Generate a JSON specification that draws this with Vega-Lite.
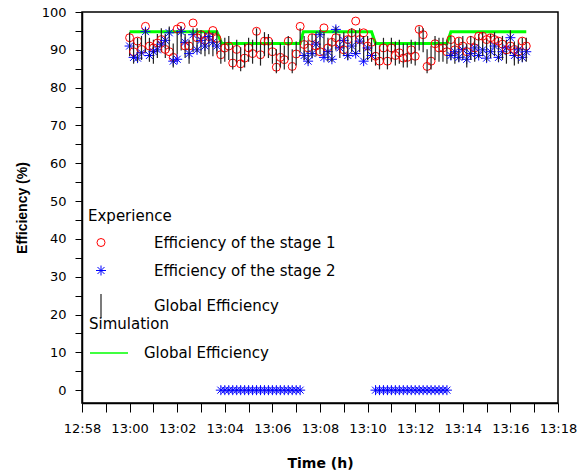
{
  "$schema": "https://vega.github.io/schema/vega-lite/v6.json",
  "width": 476,
  "height": 391,
  "autosize": {"type": "none"},
  "padding": {"left": 82, "top": 12, "right": 24, "bottom": 72},
  "background": "white",
  "config": {
    "font": "Liberation Sans",
    "view": {"stroke": "black", "strokeWidth": 1.5},
    "axis": {"grid": false, "domainColor": "black", "tickColor": "black", "labelColor": "black", "titleColor": "black", "domainWidth": 1.5, "tickWidth": 1, "labelFont": "DejaVu Sans"},
    "legend": {"labelFont": "DejaVu Sans", "titleFont": "DejaVu Sans", "labelLimit": 400}
  },
  "encoding": {
    "x": {
      "field": "t",
      "type": "temporal",
      "scale": {"domain": [{"year": 1900, "month": 1, "date": 1, "hours": 12, "minutes": 58}, {"year": 1900, "month": 1, "date": 1, "hours": 13, "minutes": 18}], "nice": false},
      "axis": {
        "title": "Time (h)",
        "titleFont": "DejaVu Sans",
        "titleFontSize": 14,
        "titleFontWeight": "bold",
        "titlePadding": 21,
        "format": "%H:%M",
        "values": [
          {"year": 1900, "month": 1, "date": 1, "hours": 12, "minutes": 58},
          {"year": 1900, "month": 1, "date": 1, "hours": 12, "minutes": 59},
          {"year": 1900, "month": 1, "date": 1, "hours": 13, "minutes": 0},
          {"year": 1900, "month": 1, "date": 1, "hours": 13, "minutes": 1},
          {"year": 1900, "month": 1, "date": 1, "hours": 13, "minutes": 2},
          {"year": 1900, "month": 1, "date": 1, "hours": 13, "minutes": 3},
          {"year": 1900, "month": 1, "date": 1, "hours": 13, "minutes": 4},
          {"year": 1900, "month": 1, "date": 1, "hours": 13, "minutes": 5},
          {"year": 1900, "month": 1, "date": 1, "hours": 13, "minutes": 6},
          {"year": 1900, "month": 1, "date": 1, "hours": 13, "minutes": 7},
          {"year": 1900, "month": 1, "date": 1, "hours": 13, "minutes": 8},
          {"year": 1900, "month": 1, "date": 1, "hours": 13, "minutes": 9},
          {"year": 1900, "month": 1, "date": 1, "hours": 13, "minutes": 10},
          {"year": 1900, "month": 1, "date": 1, "hours": 13, "minutes": 11},
          {"year": 1900, "month": 1, "date": 1, "hours": 13, "minutes": 12},
          {"year": 1900, "month": 1, "date": 1, "hours": 13, "minutes": 13},
          {"year": 1900, "month": 1, "date": 1, "hours": 13, "minutes": 14},
          {"year": 1900, "month": 1, "date": 1, "hours": 13, "minutes": 15},
          {"year": 1900, "month": 1, "date": 1, "hours": 13, "minutes": 16},
          {"year": 1900, "month": 1, "date": 1, "hours": 13, "minutes": 17},
          {"year": 1900, "month": 1, "date": 1, "hours": 13, "minutes": 18}
        ],
        "labelExpr": "minutes(datum.value) % 2 == 0 ? datum.label : ''",
        "labelOverlap": false,
        "labelFlush": false,
        "labelFontSize": 13,
        "labelPadding": 10,
        "tickSize": 9,
        "encoding": {"ticks": {"update": {"y2": {"signal": "minutes(datum.value) % 2 == 0 ? 9 : 5"}}}}
      }
    },
    "y": {
      "field": "value",
      "type": "quantitative",
      "scale": {"domain": [-3.4, 100], "nice": false, "zero": false},
      "axis": {
        "title": "Efficiency (%)",
        "titleFontSize": 14,
        "titleFontWeight": "bold",
        "titlePadding": 12,
        "values": [0, 5, 10, 15, 20, 25, 30, 35, 40, 45, 50, 55, 60, 65, 70, 75, 80, 85, 90, 95, 100],
        "labelExpr": "datum.value % 10 == 0 ? datum.label : ''",
        "labelOverlap": false,
        "labelFlush": false,
        "labelFontSize": 13,
        "labelPadding": 9,
        "tickSize": 7,
        "encoding": {"ticks": {"update": {"x2": {"signal": "datum.value % 10 == 0 ? -7 : -4"}}}}
      }
    }
  },
  "layer": [
    {
      "data": {"values": [
        {"t": "13:00:00", "value": 94.8}, {"t": "13:03:40", "value": 94.8}, {"t": "13:03:52", "value": 91.7},
        {"t": "13:07:10", "value": 91.7}, {"t": "13:07:18", "value": 94.8}, {"t": "13:10:10", "value": 94.8},
        {"t": "13:10:20", "value": 91.7}, {"t": "13:13:20", "value": 91.7}, {"t": "13:13:30", "value": 94.8},
        {"t": "13:16:40", "value": 94.8}
      ], "format": {"parse": {"t": "date:'%H:%M:%S'"}}},
      "mark": {"type": "line", "strokeWidth": 3},
      "encoding": {
        "stroke": {
          "datum": "Global Efficiency",
          "scale": {"range": ["#00ff00"]},
          "legend": {
            "title": "Simulation",
            "orient": "none",
            "legendX": 7,
            "legendY": 305,
            "padding": 0,
            "symbolType": "stroke",
            "symbolSize": 1444,
            "symbolStrokeWidth": 1.5,
            "labelOffset": 15,
            "titlePadding": 1,
            "titleFontSize": 15,
            "titleFontWeight": "normal",
            "labelFontSize": 15,
            "labelLimit": 400
          }
        }
      }
    },
    {
      "data": {"values": [
      {"t": "13:00:00", "s1": 93.2, "s2": 91.0, "g": 91.5},
      {"t": "13:00:10", "s1": 89.5, "s2": 88.0, "g": 89.5},
      {"t": "13:00:20", "s1": 92.3, "s2": 87.8, "g": 90.0},
      {"t": "13:00:30", "s1": 90.1, "s2": 89.2, "g": 90.5},
      {"t": "13:00:40", "s1": 96.2, "s2": 94.8, "g": 92.5},
      {"t": "13:00:50", "s1": 91.0, "s2": 88.5, "g": 90.0},
      {"t": "13:01:00", "s1": 90.5, "s2": 89.5, "g": 89.5},
      {"t": "13:01:10", "s1": 91.8, "s2": 90.0, "g": 91.0},
      {"t": "13:01:20", "s1": 92.7, "s2": 91.5, "g": 92.5},
      {"t": "13:01:30", "s1": 90.1, "s2": 92.5, "g": 91.0},
      {"t": "13:01:40", "s1": 89.5, "s2": 94.5, "g": 93.0},
      {"t": "13:01:50", "s1": 88.0, "s2": 87.0, "g": 88.5},
      {"t": "13:02:00", "s1": 95.5, "s2": 87.5, "g": 92.0},
      {"t": "13:02:10", "s1": 96.2, "s2": 94.8, "g": 93.0},
      {"t": "13:02:20", "s1": 91.0, "s2": 92.0, "g": 91.0},
      {"t": "13:02:30", "s1": 91.0, "s2": 89.0, "g": 89.5},
      {"t": "13:02:40", "s1": 97.1, "s2": 94.0, "g": 92.5},
      {"t": "13:02:50", "s1": 93.2, "s2": 90.0, "g": 92.5},
      {"t": "13:03:00", "s1": 94.0, "s2": 92.5, "g": 92.0},
      {"t": "13:03:10", "s1": 92.5, "s2": 91.0, "g": 91.5},
      {"t": "13:03:20", "s1": 93.5, "s2": 93.5, "g": 92.0},
      {"t": "13:03:30", "s1": 95.1, "s2": 92.0, "g": 91.5},
      {"t": "13:03:40", "s1": 93.0, "s2": 91.0, "g": 92.0},
      {"t": "13:03:50", "s1": 88.7, "s2": 0, "g": 89.5},
      {"t": "13:04:00", "s1": 90.5, "s2": 0, "g": 90.0},
      {"t": "13:04:10", "s1": 91.0, "s2": 0, "g": 90.5},
      {"t": "13:04:20", "s1": 86.5, "s2": 0, "g": 88.0},
      {"t": "13:04:30", "s1": 90.1, "s2": 0, "g": 89.5},
      {"t": "13:04:40", "s1": 86.3, "s2": 0, "g": 87.5},
      {"t": "13:04:50", "s1": 87.8, "s2": 0, "g": 88.5},
      {"t": "13:05:00", "s1": 90.5, "s2": 0, "g": 90.0},
      {"t": "13:05:10", "s1": 89.0, "s2": 0, "g": 89.5},
      {"t": "13:05:20", "s1": 94.9, "s2": 0, "g": 92.5},
      {"t": "13:05:30", "s1": 88.7, "s2": 0, "g": 89.0},
      {"t": "13:05:40", "s1": 92.3, "s2": 0, "g": 91.5},
      {"t": "13:05:50", "s1": 92.3, "s2": 0, "g": 91.0},
      {"t": "13:06:00", "s1": 89.5, "s2": 0, "g": 89.5},
      {"t": "13:06:10", "s1": 85.4, "s2": 0, "g": 87.0},
      {"t": "13:06:20", "s1": 88.0, "s2": 0, "g": 88.5},
      {"t": "13:06:30", "s1": 87.4, "s2": 0, "g": 88.0},
      {"t": "13:06:40", "s1": 92.3, "s2": 0, "g": 90.5},
      {"t": "13:06:50", "s1": 85.6, "s2": 0, "g": 87.0},
      {"t": "13:07:00", "s1": 88.9, "s2": 0, "g": 89.0},
      {"t": "13:07:10", "s1": 96.2, "s2": 0, "g": 92.5},
      {"t": "13:07:20", "s1": 91.4, "s2": 88.5, "g": 90.5},
      {"t": "13:07:30", "s1": 90.5, "s2": 87.0, "g": 89.5},
      {"t": "13:07:40", "s1": 93.2, "s2": 89.0, "g": 91.0},
      {"t": "13:07:50", "s1": 91.0, "s2": 91.5, "g": 91.5},
      {"t": "13:08:00", "s1": 89.5, "s2": 94.0, "g": 92.0},
      {"t": "13:08:10", "s1": 95.8, "s2": 88.0, "g": 91.5},
      {"t": "13:08:20", "s1": 90.5, "s2": 89.5, "g": 90.0},
      {"t": "13:08:30", "s1": 92.0, "s2": 87.5, "g": 90.0},
      {"t": "13:08:40", "s1": 93.2, "s2": 95.4, "g": 93.0},
      {"t": "13:08:50", "s1": 91.5, "s2": 90.5, "g": 91.0},
      {"t": "13:09:00", "s1": 90.0, "s2": 92.5, "g": 91.5},
      {"t": "13:09:10", "s1": 92.7, "s2": 88.5, "g": 90.5},
      {"t": "13:09:20", "s1": 94.5, "s2": 91.0, "g": 92.5},
      {"t": "13:09:30", "s1": 97.6, "s2": 89.0, "g": 92.0},
      {"t": "13:09:40", "s1": 92.7, "s2": 92.3, "g": 92.5},
      {"t": "13:09:50", "s1": 94.5, "s2": 87.0, "g": 90.5},
      {"t": "13:10:00", "s1": 91.0, "s2": 90.5, "g": 90.5},
      {"t": "13:10:10", "s1": 92.0, "s2": 88.5, "g": 90.0},
      {"t": "13:10:20", "s1": 88.3, "s2": 0, "g": 89.0},
      {"t": "13:10:30", "s1": 87.0, "s2": 0, "g": 88.0},
      {"t": "13:10:40", "s1": 90.5, "s2": 0, "g": 90.0},
      {"t": "13:10:50", "s1": 87.0, "s2": 0, "g": 88.0},
      {"t": "13:11:00", "s1": 90.5, "s2": 0, "g": 90.0},
      {"t": "13:11:10", "s1": 88.5, "s2": 0, "g": 89.0},
      {"t": "13:11:20", "s1": 89.2, "s2": 0, "g": 89.5},
      {"t": "13:11:30", "s1": 87.8, "s2": 0, "g": 88.5},
      {"t": "13:11:40", "s1": 88.0, "s2": 0, "g": 88.5},
      {"t": "13:11:50", "s1": 90.0, "s2": 0, "g": 89.5},
      {"t": "13:12:00", "s1": 88.3, "s2": 0, "g": 89.0},
      {"t": "13:12:10", "s1": 95.4, "s2": 0, "g": 93.0},
      {"t": "13:12:20", "s1": 94.0, "s2": 0, "g": 92.5},
      {"t": "13:12:30", "s1": 85.6, "s2": 0, "g": 87.0},
      {"t": "13:12:40", "s1": 87.0, "s2": 0, "g": 88.0},
      {"t": "13:12:50", "s1": 91.6, "s2": 0, "g": 90.5},
      {"t": "13:13:00", "s1": 90.5, "s2": 0, "g": 90.0},
      {"t": "13:13:10", "s1": 90.5, "s2": 0, "g": 90.0},
      {"t": "13:13:20", "s1": 89.5, "s2": 0, "g": 89.5},
      {"t": "13:13:30", "s1": 92.7, "s2": 88.5, "g": 90.5},
      {"t": "13:13:40", "s1": 90.0, "s2": 89.5, "g": 89.5},
      {"t": "13:13:50", "s1": 92.3, "s2": 88.0, "g": 90.0},
      {"t": "13:14:00", "s1": 91.0, "s2": 90.0, "g": 90.5},
      {"t": "13:14:10", "s1": 89.5, "s2": 87.5, "g": 88.5},
      {"t": "13:14:20", "s1": 92.5, "s2": 89.0, "g": 90.5},
      {"t": "13:14:30", "s1": 90.5, "s2": 90.5, "g": 90.0},
      {"t": "13:14:40", "s1": 93.6, "s2": 88.5, "g": 91.0},
      {"t": "13:14:50", "s1": 93.6, "s2": 90.0, "g": 91.5},
      {"t": "13:15:00", "s1": 92.7, "s2": 87.8, "g": 90.0},
      {"t": "13:15:10", "s1": 93.2, "s2": 89.5, "g": 91.0},
      {"t": "13:15:20", "s1": 92.7, "s2": 91.0, "g": 91.5},
      {"t": "13:15:30", "s1": 92.3, "s2": 88.0, "g": 90.0},
      {"t": "13:15:40", "s1": 91.5, "s2": 89.5, "g": 90.5},
      {"t": "13:15:50", "s1": 90.0, "s2": 90.5, "g": 89.5},
      {"t": "13:16:00", "s1": 91.0, "s2": 93.2, "g": 92.0},
      {"t": "13:16:10", "s1": 90.1, "s2": 88.5, "g": 89.0},
      {"t": "13:16:20", "s1": 89.5, "s2": 90.0, "g": 89.5},
      {"t": "13:16:30", "s1": 92.3, "s2": 88.0, "g": 90.0},
      {"t": "13:16:40", "s1": 91.0, "s2": 89.5, "g": 90.0}
      ], "format": {"parse": {"t": "date:'%H:%M:%S'"}}},
      "transform": [{"fold": ["s1", "s2", "g"], "as": ["key", "value"]}],
      "mark": {"type": "point", "filled": false, "opacity": 1},
      "encoding": {
        "color": {
          "field": "key",
          "type": "nominal",
          "scale": {"domain": ["s1", "s2", "g"], "range": ["#ff0000", "#0000ff", "#222222"]},
          "legend": {
            "title": "Experience",
            "orient": "none",
            "legendX": 6,
            "legendY": 197,
            "padding": 0,
            "symbolSize": 90,
            "symbolStrokeWidth": 1.2,
            "labelOffset": 40,
            "labelLimit": 400,
            "rowPadding": 12,
            "titlePadding": 11,
            "titleFontSize": 15,
            "titleFontWeight": "normal",
            "labelFontSize": 15,
            "labelExpr": "datum.label == 's1' ? 'Efficiency of the stage 1' : datum.label == 's2' ? 'Efficiency of the stage 2' : 'Global Efficiency'",
            "encoding": {"symbols": {"update": {"size": {"value": 90}, "strokeWidth": {"value": 1.2}}}}
          }
        },
        "shape": {
          "field": "key",
          "type": "nominal",
          "scale": {"domain": ["s1", "s2", "g"], "range": ["circle", "M-1,0L1,0M0,-1L0,1M-0.7,-0.7L0.7,0.7M-0.7,0.7L0.7,-0.7", "M0,-1L0,1"]},
          "legend": {
            "title": "Experience",
            "orient": "none",
            "legendX": 6,
            "legendY": 197,
            "padding": 0,
            "symbolSize": 90,
            "symbolStrokeWidth": 1.2,
            "labelOffset": 40,
            "labelLimit": 400,
            "rowPadding": 12,
            "titlePadding": 11,
            "titleFontSize": 15,
            "titleFontWeight": "normal",
            "labelFontSize": 15,
            "labelExpr": "datum.label == 's1' ? 'Efficiency of the stage 1' : datum.label == 's2' ? 'Efficiency of the stage 2' : 'Global Efficiency'",
            "encoding": {"symbols": {"update": {"size": {"value": 90}, "strokeWidth": {"value": 1.2}}}}
          }
        },
        "size": {"field": "key", "type": "nominal", "scale": {"type": "ordinal", "domain": ["s1", "s2", "g"], "range": [64, 100, 576]}, "legend": null},
        "strokeWidth": {"field": "key", "type": "nominal", "scale": {"type": "ordinal", "domain": ["s1", "s2", "g"], "range": [1, 1, 1.2]}, "legend": null}
      }
    }
  ]
}
